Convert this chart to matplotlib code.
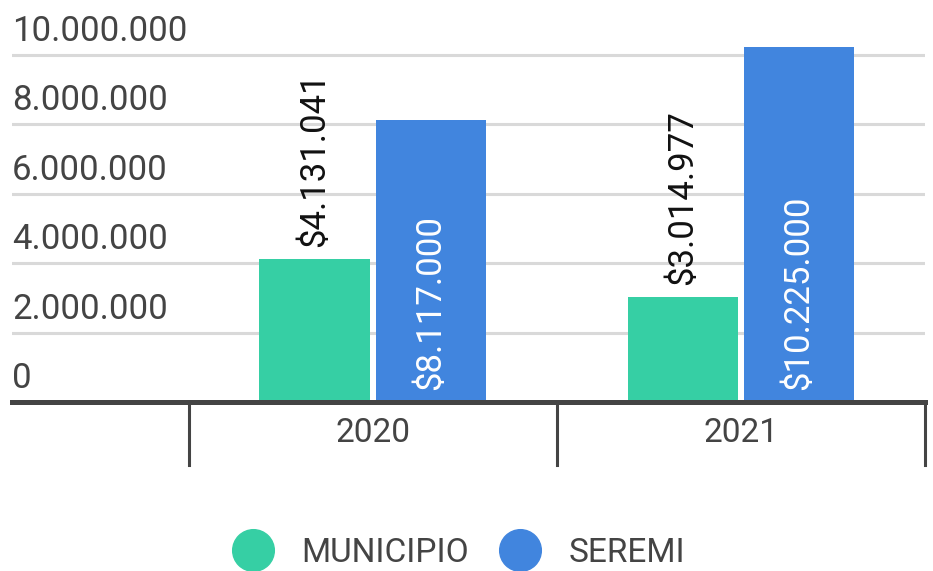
import matplotlib
matplotlib.use('Agg')
import matplotlib.pyplot as plt
import matplotlib.transforms as mtransforms
from matplotlib.lines import Line2D
import numpy as np

plt.rcParams['font.family'] = ['Roboto', 'DejaVu Sans']

years = ['2020', '2021']
municipio = [4131041, 3014977]
seremi = [8117000, 10225000]
series_names = ['MUNICIPIO', 'SEREMI']
yticks = [0, 2000000, 4000000, 6000000, 8000000, 10000000]

GREEN = '#36cfa4'
BLUE = '#4185de'
GREY = '#444444'


def fmt(v):
    return '{:,}'.format(v).replace(',', '.')


W, H = 933, 571
fig = plt.figure(figsize=(W / 100, H / 100), dpi=100)
# axes in pixel coords: left 12, right 925, baseline 402, top 30
ax = fig.add_axes([12 / W, 1 - 402 / H, (925 - 12) / W, (402 - 30) / H])
ax.set_xlim(-0.98, 1.5)
ax.set_ylim(0, 10.72e6)
for s in ax.spines.values():
    s.set_visible(False)

x = np.arange(len(years))
width = 0.30
off = 0.158
ax.bar(x - off, municipio, width, color=GREEN, zorder=2)
ax.bar(x + off, seremi, width, color=BLUE, zorder=2)

# gridlines and y labels above them
for t in yticks[1:]:
    ax.axhline(t, color='#d9d9d9', lw=2.2, zorder=1)
ax.axhline(0, color=GREY, lw=3.6, zorder=3, clip_on=False)
ax.set_xticks([])
ax.set_yticks([])

ylab_tr = mtransforms.offset_copy(ax.get_yaxis_transform(), fig=fig, x=0, y=7, units='dots')
for t in yticks:
    ax.text(0, t, fmt(t), transform=ylab_tr, ha='left', va='bottom',
            fontsize=25, color=GREY)

# category separators
for b in [-0.5, 0.5, 1.5]:
    ax.plot([b, b], [0, -63 / 34.7 * 1e6], color=GREY, lw=2.2, clip_on=False, zorder=3)

xlab_tr = mtransforms.offset_copy(ax.get_xaxis_transform(), fig=fig, x=0, y=-31, units='dots')
for xi, yr in zip(x, years):
    ax.text(xi, 0, yr, transform=xlab_tr, ha='center', va='center', fontsize=24, color=GREY)

# data labels
up_tr = mtransforms.offset_copy(ax.transData, fig=fig, x=0, y=12, units='dots')
for xi, v in zip(x, municipio):
    ax.text(xi - off, v, '$' + fmt(v), transform=up_tr, rotation=90,
            ha='center', va='bottom', fontsize=25, color='#111111', zorder=4)
for xi, v in zip(x, seremi):
    ax.text(xi + off, 0, '$' + fmt(v), transform=up_tr, rotation=90,
            ha='center', va='bottom', fontsize=25, color='white', zorder=4)

handles = [Line2D([], [], ls='none', marker='o', markersize=30, color=c)
           for c in [GREEN, BLUE]]
fig.legend(handles, series_names, loc='center', bbox_to_anchor=(0.491, 1 - 553 / H),
           ncol=2, frameon=False, fontsize=24, labelcolor=GREY,
           handlelength=1.3, handletextpad=0.8, columnspacing=0.9)

fig.savefig('out.png', dpi=100)
